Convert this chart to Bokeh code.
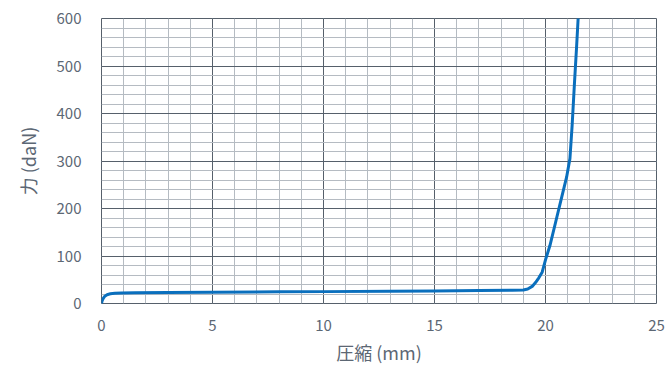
from bokeh.plotting import figure
from bokeh.models import FixedTicker, Range1d
from bokeh.embed import file_html
from bokeh.resources import INLINE

# Data
compression_mm = [0.0, 0.03, 0.08, 0.15, 0.25, 0.4, 0.6, 0.9, 1.5, 3.0, 5.0, 8.0, 10.0,
                  13.0, 15.0, 17.0, 18.5, 19.0, 19.2, 19.4, 19.55, 19.7, 19.85, 20.0,
                  20.2, 20.45, 20.7, 20.95, 21.1, 21.2, 21.3, 21.4, 21.47]
force_daN = [0.0, 6.0, 11.0, 15.5, 18.5, 20.5, 21.5, 22.0, 22.5, 23.0, 23.5, 24.5, 25.0,
             26.0, 26.5, 27.5, 28.0, 28.5, 30.5, 36.0, 44.0, 54.0, 66.0, 92.0,
             122.0, 170.0, 218.0, 266.0, 305.0, 375.0, 460.0, 540.0, 600.0]

x_major = [0, 5, 10, 15, 20, 25]
x_minor = list(range(0, 26))
y_major = [0, 100, 200, 300, 400, 500, 600]
y_minor = list(range(0, 601, 20))

x_title = "圧縮 (mm)"
y_title = "力 (daN)"

FONT = "Noto Sans CJK JP"
TXT = "#5c6774"
MAJOR = "#56606b"
MINOR = "#b5bbc2"

p = figure(width=667, height=368, output_backend="svg", toolbar_location=None,
           x_range=Range1d(0, 25), y_range=Range1d(0, 600),
           min_border_left=101, min_border_right=11, min_border_top=18,
           min_border_bottom=65)

p.xaxis.ticker = FixedTicker(ticks=x_major, minor_ticks=x_minor)
p.yaxis.ticker = FixedTicker(ticks=y_major, minor_ticks=y_minor)

for ax in (p.xaxis, p.yaxis):
    ax.axis_line_color = None
    ax.major_tick_line_color = None
    ax.minor_tick_line_color = None
    ax.major_label_text_font = FONT
    ax.major_label_text_font_size = "15px"
    ax.major_label_text_color = TXT
    ax.axis_label_text_font = FONT
    ax.axis_label_text_font_size = "18px"
    ax.axis_label_text_font_style = "normal"
    ax.axis_label_text_color = TXT

p.xaxis.major_label_standoff = 10
p.xaxis.axis_label = x_title
p.xaxis.axis_label_standoff = 5
p.yaxis.major_label_standoff = 14
p.yaxis.axis_label = y_title
p.yaxis.axis_label_standoff = 13

for g in (p.xgrid, p.ygrid):
    g.grid_line_color = MAJOR
    g.grid_line_width = 1
    g.minor_grid_line_color = MINOR
    g.minor_grid_line_width = 1
    g.level = "underlay"

p.outline_line_color = MAJOR
p.outline_line_width = 1
p.background_fill_color = "white"
p.border_fill_color = "white"

p.line(compression_mm, force_daN, line_color="#0a6fbd", line_width=3,
       line_join="round", line_cap="round")

open("out.html", "w").write(file_html(p, INLINE))
